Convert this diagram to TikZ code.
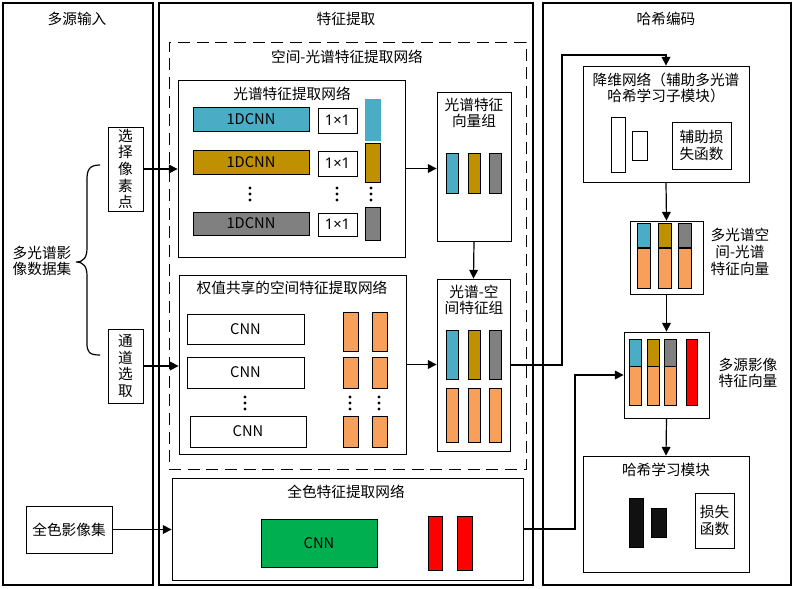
\documentclass[tikz,border=0pt]{standalone}
\usepackage{fontspec}
\setmainfont{Noto Sans CJK SC}
\newfontfamily\latinfont{Noto Sans}
\usetikzlibrary{positioning, fit, arrows.meta}
\definecolor{cyanbar}{HTML}{4BACC6}
\definecolor{goldbar}{HTML}{BF9000}
\definecolor{graybar}{HTML}{808080}
\definecolor{orangebar}{HTML}{F7A05B}
\definecolor{greenbar}{HTML}{00B050}
\definecolor{redbar}{HTML}{FF0000}
\definecolor{blackbar}{HTML}{111111}
\tikzset{
frame/.style={draw, line width=1.1pt, inner sep=0pt},
box/.style={draw, line width=0.6pt, inner sep=0pt, fill=white},
dbox/.style={draw, dash pattern=on 9pt off 5pt, line width=0.7pt, inner sep=0pt},
bar/.style={draw, line width=0.5pt, inner sep=0pt},
hidden/.style={inner sep=0pt, align=center},
arr/.style={-{Triangle[length=6.5pt,width=6.5pt]}, line width=0.9pt},
}

\begin{document}
\begin{tikzpicture}[x=0.75pt, y=-0.75pt, font=\fontsize{11}{12.5}\selectfont]
    \useasboundingbox (0,0) rectangle (800,589);

    %columns
    \node[frame, fit={(3,3) (153,585)}] (colin) {};
    \node[frame, fit={(159,3) (533,585)}] (colfe) {};
    \node[frame, fit={(543,3) (791,585)}] (colhash) {};
    \node[hidden] (tin) at (77,19) {多源输入};
    \node[hidden] (tfe) at (346,19) {特征提取};
    \node[hidden] (thash) at (666,19) {哈希编码};

    %inputs
    \node[box, fit={(108,127) (143,211)}, label={[hidden]center:选\\择\\像\\素\\点}] (sel) {};
    \node[box, fit={(108,329) (143,403)}, label={[hidden]center:通\\道\\选\\取}] (chan) {};
    \node[box, fit={(26,506) (112,553)}, label={[hidden]center:全色影像集}] (panset) {};
    \node[hidden] (msset) at (42,261) {多光谱影\\像数据集};
    \draw[line width=0.9pt] (100,165) .. controls (89,165) and (87,170) .. (87,180) -- (87,248)
        .. controls (87,257) and (84,262) .. (76,262) .. controls (84,262) and (87,267) .. (87,276)
        -- (87,343) .. controls (87,352) and (89,355) .. (100,355);

    %spatial-spectral net
    \node[dbox, fit={(169,42) (526,469)}] (ssnet) {};
    \node[hidden] (tssnet) at (347,57) {空间-光谱特征提取网络};

    %spectral net
    \node[box, fit={(178,80) (405,257)}] (spec) {};
    \node[hidden] (tspec) at (292,94) {光谱特征提取网络};
    \node[bar, fill=cyanbar, fit={(193,107) (309,131)}, label={[hidden]center:1DCNN}] (dc1) {};
    \node[bar, fill=goldbar, fit={(193,150) (309,174)}, label={[hidden]center:1DCNN}] (dc2) {};
    \node[bar, fill=graybar, fit={(193,212) (309,235)}, label={[hidden]center:1DCNN}] (dc3) {};
    \node[box, fit={(318,108) (357,133)}, label={[hidden]center:{\latinfont 1×1}}] (k1) {};
    \node[box, fit={(318,151) (357,176)}, label={[hidden]center:{\latinfont 1×1}}] (k2) {};
    \node[box, fit={(318,213) (357,236)}, label={[hidden]center:{\latinfont 1×1}}] (k3) {};
    \filldraw[bar, draw=cyanbar, fill=cyanbar] (365,99) rectangle (380,140);
    \filldraw[bar, fill=goldbar] (365,143) rectangle (380,182);
    \filldraw[bar, fill=graybar] (365,207) rectangle (380,240);
    \foreach \x in {250,337,371}
        \foreach \d in {-6,0,6}
            \fill (\x,194+\d) circle (1.2pt);

    %spatial net
    \node[box, fit={(179,275) (406,454)}] (spat) {};
    \node[hidden] (tspat) at (292,288) {权值共享的空间特征提取网络};
    \node[box, fit={(187,314) (304,344)}, label={[hidden]center:CNN}] (cn1) {};
    \node[box, fit={(187,357) (304,388)}, label={[hidden]center:CNN}] (cn2) {};
    \node[box, fit={(190,416) (306,447)}, label={[hidden]center:CNN}] (cn3) {};
    \foreach \x in {343,372}
        \foreach \ya/\yb in {312/351,357/388,416/447}
            \filldraw[bar, fill=orangebar] (\x,\ya) rectangle (\x+15,\yb);
    \foreach \x in {245,350,379}
        \foreach \d in {-6,0,6}
            \fill (\x,403+\d) circle (1.2pt);

    %feature groups
    \node[box, fit={(437,92) (511,241)}] (vgrp) {};
    \node[hidden] (tvgrp) at (474,113) {光谱特征\\向量组};
    \node[box, fit={(437,279) (510,451)}] (ssgrp) {};
    \node[hidden] (tssgrp) at (474,300) {光谱-空\\间特征组};
    \foreach \x/\c in {446/cyanbar,468/goldbar,489/graybar}{
        \filldraw[bar, fill=\c] (\x,153) rectangle (\x+12,193);
        \filldraw[bar, fill=\c] (\x,330) rectangle (\x+12,379);
        \filldraw[bar, fill=orangebar] (\x,388) rectangle (\x+12,442);
    }

    %panchromatic net
    \node[box, fit={(172,478) (523,580)}] (pan) {};
    \node[hidden] (tpan) at (346,492) {全色特征提取网络};
    \node[bar, fill=greenbar, fit={(261,519) (377,567)}, label={[hidden]center:CNN}] (pcnn) {};
    \filldraw[bar, fill=redbar] (428,516) rectangle (442,570);
    \filldraw[bar, fill=redbar] (457,516) rectangle (472,570);

    %hash coding
    \node[box, fit={(583,66) (749,182)}] (dimred) {};
    \node[hidden] (tdimred) at (666,88) {降维网络（辅助多光谱\\哈希学习子模块）};
    \draw[line width=0.6pt] (611,117) rectangle (625,172);
    \draw[line width=0.6pt] (632,131) rectangle (647,160);
    \node[box, fit={(672,122) (731,169)}, label={[hidden]center:辅助损\\失函数}] (auxloss) {};

    \node[box, fit={(630,221) (703,294)}] (msvec) {};
    \node[hidden] (tmsvec) at (740,252) {多光谱空\\间-光谱\\特征向量};
    \foreach \x/\c in {637/cyanbar,658/goldbar,678/graybar}{
        \filldraw[bar, fill=\c] (\x,223) rectangle (\x+13,247);
        \filldraw[bar, fill=orangebar] (\x,248) rectangle (\x+13,288);
    }

    \node[box, fit={(624,332) (709,418)}] (srcvec) {};
    \node[hidden] (tsrcvec) at (748,373) {多源影像\\特征向量};
    \foreach \x/\c in {629/cyanbar,647/goldbar,664/graybar}{
        \filldraw[bar, fill=\c] (\x,339) rectangle (\x+12,366);
        \filldraw[bar, fill=orangebar] (\x,366) rectangle (\x+12,405);
    }
    \filldraw[bar, fill=redbar] (686,339) rectangle (697,405);

    \node[box, fit={(583,456) (749,572)}] (hash) {};
    \node[hidden] (thash2) at (666,470) {哈希学习模块};
    \filldraw[bar, fill=blackbar] (629,498) rectangle (643,547);
    \filldraw[bar, fill=blackbar] (651,508) rectangle (666,537);
    \node[box, fit={(695,493) (734,548)}, label={[hidden]center:损失\\函数}] (loss) {};

    %arrows
    \coordinate (t1) at (562,55);
    \coordinate (t2) at (575,375);
    \draw[arr] (sel.east) -- (sel.east -| spec.west);
    \draw[arr] (chan.east) -- (chan.east -| spat.west);
    \draw[arr] (panset.east) -- (panset.east -| pan.west);
    \draw[arr] (spec.east) -- (spec.east -| vgrp.west);
    \draw[arr] (spat.east) -- (spat.east -| ssgrp.west);
    \draw[arr] (vgrp.south) -- (ssgrp.north);
    \draw[arr] (ssgrp.east) -| (t1) -| (dimred.north);
    \draw[arr] (dimred.south) -- (msvec.north);
    \draw[arr] (msvec.south) -- (srcvec.north);
    \draw[arr] (pan.east) -| (t2) -- (srcvec.west);
    \draw[arr] (srcvec.south) -- (hash.north);
\end{tikzpicture}
\end{document}
